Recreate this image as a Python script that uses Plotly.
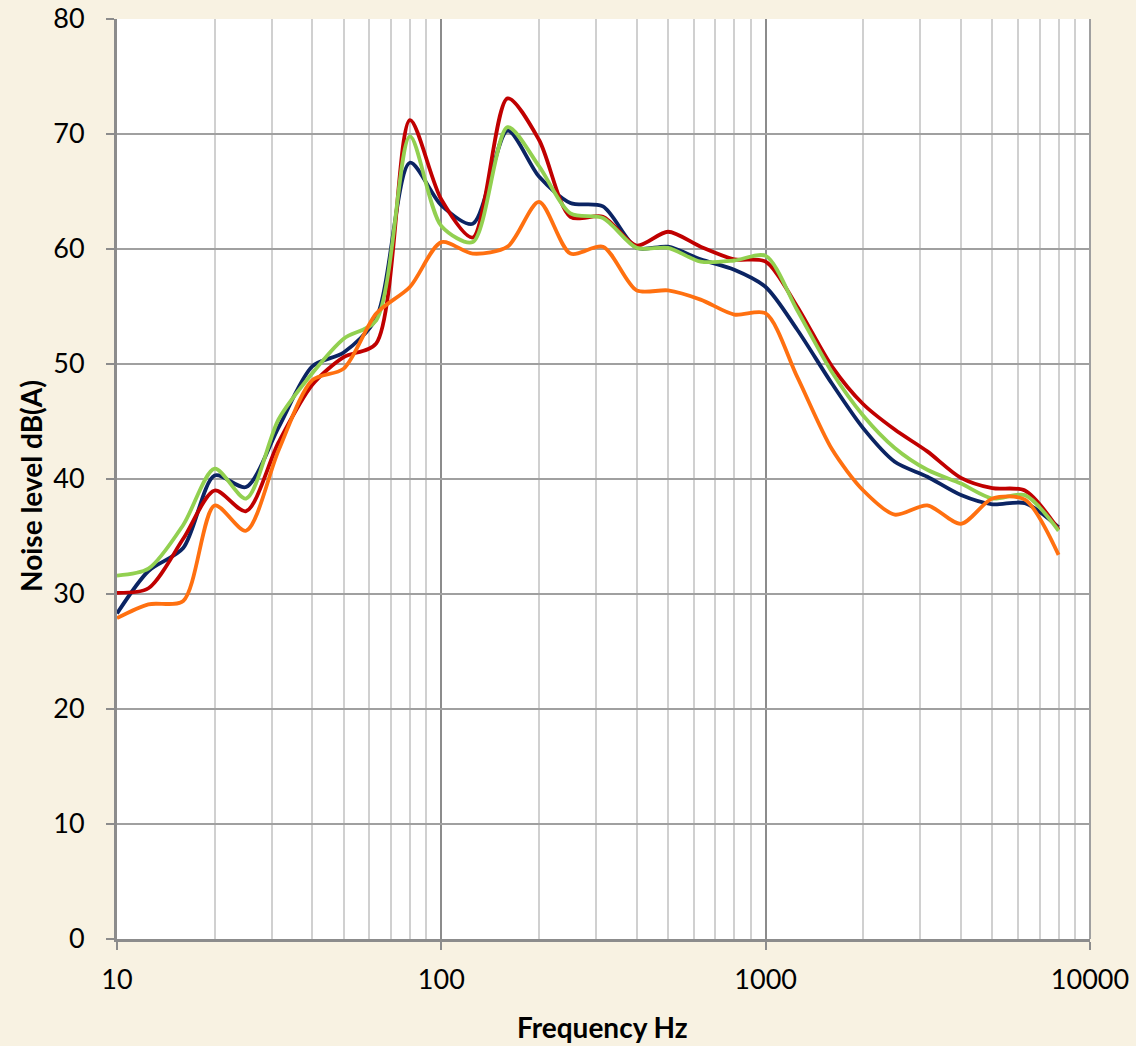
import plotly.graph_objects as go

freqs = [10, 12.5, 16, 20, 25, 31.5, 40, 50, 63, 80, 100, 125, 160, 200, 250, 315,
         400, 500, 630, 800, 1000, 1250, 1600, 2000, 2500, 3150, 4000, 5000, 6300, 8000]

navy = [28.3, 32.0, 34.0, 40.3, 39.3, 44.5, 49.8, 51.0, 54.0, 67.5, 63.8, 62.2, 70.3, 66.3, 64.0, 63.7,
        60.1, 60.2, 59.1, 58.2, 56.7, 53.0, 48.3, 44.4, 41.5, 40.2, 38.6, 37.8, 37.9, 35.8]
red = [30.1, 30.5, 34.8, 39.0, 37.2, 43.2, 48.2, 50.6, 51.8, 71.2, 64.3, 61.0, 73.1, 69.5, 62.8, 62.8,
       60.3, 61.5, 60.2, 59.1, 58.9, 55.0, 49.8, 46.5, 44.3, 42.4, 40.1, 39.2, 39.0, 35.6]
green = [31.6, 32.2, 36.0, 40.9, 38.3, 45.2, 49.2, 52.2, 53.8, 69.8, 62.0, 60.6, 70.6, 67.2, 63.1, 62.7,
         60.1, 60.1, 58.9, 59.0, 59.4, 54.7, 49.3, 45.5, 42.7, 40.8, 39.6, 38.3, 38.6, 35.5]
orange = [27.9, 29.1, 29.4, 37.7, 35.5, 42.5, 48.6, 49.6, 54.4, 56.7, 60.6, 59.6, 60.2, 64.1, 59.6, 60.2,
          56.4, 56.4, 55.6, 54.3, 54.4, 48.9, 42.6, 39.0, 36.9, 37.7, 36.1, 38.3, 38.2, 33.4]

series = [
    ("Series 1", navy, "#0B2463"),
    ("Series 2", red, "#C00000"),
    ("Series 3", green, "#92D050"),
    ("Series 4", orange, "#FF7010"),
]

x_tickvals = [10, 100, 1000, 10000]
x_ticktext = ["10", "100", "1000", "10000"]
y_tickvals = [0, 10, 20, 30, 40, 50, 60, 70, 80]
x_title = "Frequency Hz"
y_title = "Noise level dB(A)"

BG = "#F8F2E2"
fig = go.Figure()
for name, vals, col in series:
    fig.add_trace(go.Scatter(x=freqs, y=vals, mode="lines", name=name,
                             line=dict(color=col, width=3.8, shape="spline", smoothing=0.8)))

font_family = "Lato, 'Open Sans', sans-serif"
fig.update_layout(
    width=1136, height=1046,
    paper_bgcolor=BG,
    plot_bgcolor="#FFFFFF",
    margin=dict(l=117, r=46, t=19, b=107, autoexpand=False),
    showlegend=False,
    font=dict(family=font_family, size=27, color="#000000"),
)
fig.update_xaxes(
    type="log", range=[1, 4], automargin=False,
    tickvals=x_tickvals, ticktext=x_ticktext,
    showgrid=True, gridcolor="#8C8C8C", gridwidth=2,
    minor=dict(tickvals=[v * d for d in [10, 100, 1000] for v in range(2, 10)],
               showgrid=True, gridcolor="#D0D0D0", gridwidth=2, ticks=""),
    ticks="outside", ticklen=8, tickwidth=2, tickcolor="#8C8C8C",
    showline=True, linecolor="#8C8C8C", linewidth=3, mirror=False,
    tickfont=dict(size=27), ticklabelstandoff=7,
    zeroline=False,
)
fig.update_yaxes(
    range=[0, 80], tickvals=y_tickvals, automargin=False,
    showgrid=True, gridcolor="#A0A0A0", gridwidth=2,
    ticks="outside", ticklen=8, tickwidth=2, tickcolor="#8C8C8C",
    showline=True, linecolor="#8C8C8C", linewidth=3,
    tickfont=dict(size=27), ticklabelstandoff=16,
    zeroline=False,
)
fig.add_shape(type="line", xref="paper", yref="paper", x0=1, x1=1, y0=0, y1=1,
              line=dict(color="#A0A0A0", width=2))

fig.add_annotation(text="<b>" + x_title + "</b>", xref="paper", yref="paper",
                   x=(602 - 117) / 973, y=-(1027 - 939) / 920, xanchor="center", yanchor="middle",
                   showarrow=False, font=dict(size=28))
fig.add_annotation(text="<b>" + y_title + "</b>", xref="paper", yref="paper",
                   x=-(117 - 31) / 973, y=(939 - 486) / 920, xanchor="center", yanchor="middle",
                   textangle=-90, showarrow=False, font=dict(size=28))

fig.write_html("out.html", config={"displayModeBar": False},
               post_script="document.body.style.margin='0';document.body.style.background='%s';" % BG)
